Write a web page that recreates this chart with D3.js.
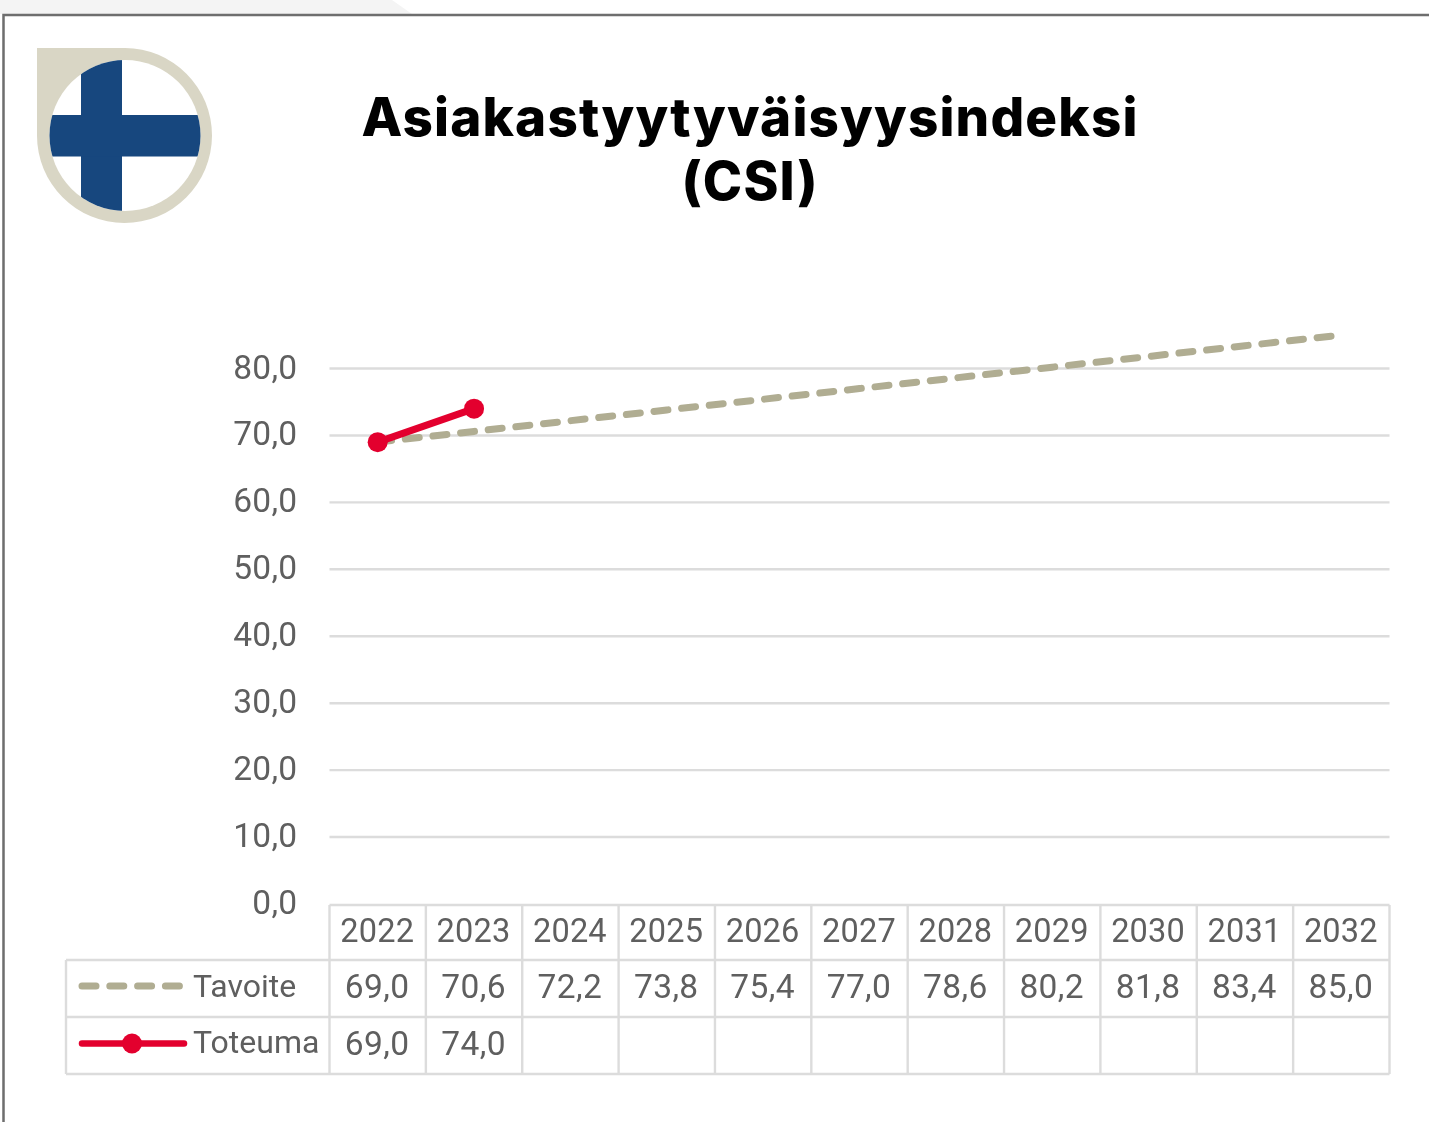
<!DOCTYPE html>
<html><head><meta charset="utf-8">
<script src="https://cdn.jsdelivr.net/npm/d3@7"></script>
<style>html,body{margin:0;padding:0;background:#fff}svg{display:block}text{font-family:Roboto,sans-serif}</style>
</head><body><svg id="c" width="1429" height="1122"></svg>
<script>
const years=["2022","2023","2024","2025","2026","2027","2028","2029","2030","2031","2032"];
const tavoite=[69.0,70.6,72.2,73.8,75.4,77.0,78.6,80.2,81.8,83.4,85.0];
const toteuma=[69.0,74.0];
const yTicks=[0,10,20,30,40,50,60,70,80];
const titleLines=["Asiakastyytyväisyysindeksi","(CSI)"];
const seriesNames=["Tavoite","Toteuma"];
const svg=d3.select("#c");
const fmt=v=>v.toFixed(1).replace(".",",");
const x=d3.scaleBand().domain(years).range([329.5,1389.5]);
const y=d3.scaleLinear().domain([0,80]).range([904,368.5]);
const rowsY=[905,960,1017,1074], tableLeft=66, tableRight=1389.5;
const grey="#5e5e5e", gridC="#dcdcdc", tanC="#b0ad92", redC="#e3002f";
const defs=svg.append("defs");
defs.append("filter").attr("id","soft").append("feGaussianBlur").attr("stdDeviation",0.55);
// page background
svg.append("path").attr("d","M0 0H392L412 14H0Z").attr("fill","#f4f4f4");
svg.append("path").attr("d","M3.5 1122V15H1429").attr("fill","none").attr("stroke","#6e6e6e").attr("stroke-width",2.5);
// logo
const logo=svg.append("g");
logo.append("path").attr("d","M37 48H125A87.5 87.5 0 1 1 37 135.5Z").attr("fill","#d9d6c5");
logo.append("circle").attr("cx",125).attr("cy",135.5).attr("r",75.5).attr("fill","#fff");
svg.append("clipPath").attr("id","lc").append("circle").attr("cx",125).attr("cy",135.5).attr("r",75.5);
const cr=logo.append("g").attr("clip-path","url(#lc)").attr("fill","#17477e");
cr.append("rect").attr("x",81).attr("y",55).attr("width",41).attr("height",165);
cr.append("rect").attr("x",45).attr("y",115).attr("width",160).attr("height",41.5);
// title
svg.selectAll(".t").data(titleLines).join("text").attr("class","t")
 .attr("x",750).attr("y",(d,i)=>136+i*64).attr("text-anchor","middle")
 .style("font-family","Inter,sans-serif").style("font-weight",800).style("font-size","53px").style("letter-spacing","1.15px")
 .attr("fill","#000").text(d=>d);
const chart=svg.append("g").attr("filter","url(#soft)");
// axis + grid
const ax=chart.append("g").attr("transform","translate(329.5,0)")
 .call(d3.axisLeft(y).tickValues(yTicks).tickFormat(fmt).tickSize(0).tickPadding(32));
ax.select(".domain").remove();
ax.selectAll("text").attr("fill",grey).style("font-size","33.5px").style("letter-spacing","0.3px").style("font-family","Roboto,sans-serif").attr("dy","9.5");
chart.append("g").selectAll("line").data(yTicks.filter(d=>d>0)).join("line")
 .attr("x1",329.5).attr("x2",1389.5).attr("y1",y).attr("y2",y).attr("stroke",gridC).attr("stroke-width",2.4);
// table
const tb=chart.append("g").attr("stroke",gridC).attr("stroke-width",2.4).attr("fill","none");
tb.append("line").attr("x1",329.5).attr("x2",tableRight).attr("y1",rowsY[0]).attr("y2",rowsY[0]);
rowsY.slice(1).forEach(v=>tb.append("line").attr("x1",tableLeft).attr("x2",tableRight).attr("y1",v).attr("y2",v));
tb.append("line").attr("x1",tableLeft).attr("x2",tableLeft).attr("y1",rowsY[1]).attr("y2",rowsY[3]);
[...years.map(d=>x(d)),tableRight].forEach(v=>tb.append("line").attr("x1",v).attr("x2",v).attr("y1",rowsY[0]).attr("y2",rowsY[3]));
const cell=(sel,data,yp,f,fs,ls)=>sel.append("g").selectAll("text").data(data).join("text")
 .attr("x",(d,i)=>x(years[i])+x.bandwidth()/2-0.5).attr("y",yp).attr("text-anchor","middle")
 .attr("fill",grey).style("font-size",fs).style("letter-spacing",ls).text(f);
cell(chart,years,942,d=>d,"32.5px","0.2px");
cell(chart,tavoite,998,fmt,"33.5px","0.4px");
cell(chart,toteuma,1055,fmt,"33.5px","0.4px");
// legend
chart.selectAll(".ln").data(seriesNames).join("text").attr("class","ln")
 .attr("x",193).attr("y",(d,i)=>997+i*56).attr("fill",grey).style("font-size","32px").text(d=>d);
chart.append("line").attr("x1",82).attr("x2",181).attr("y1",986).attr("y2",986).attr("stroke",tanC)
 .attr("stroke-width",7).attr("stroke-linecap","round").attr("stroke-dasharray","14 13.8");
chart.append("line").attr("x1",82).attr("x2",184).attr("y1",1043.5).attr("y2",1043.5).attr("stroke",redC)
 .attr("stroke-width",6.5).attr("stroke-linecap","round");
chart.append("circle").attr("cx",132).attr("cy",1043.5).attr("r",10).attr("fill",redC);
// series
const cx=i=>x(years[i])+x.bandwidth()/2;
const line=d3.line().x((d,i)=>cx(i)).y(d=>y(d));
chart.append("path").attr("d",line(tavoite)).attr("fill","none").attr("stroke",tanC).attr("stroke-width",7)
 .attr("stroke-linecap","round").attr("stroke-dasharray","14 13.8");
chart.append("path").attr("d",line(toteuma)).attr("fill","none").attr("stroke",redC).attr("stroke-width",7).attr("stroke-linecap","round");
chart.append("g").selectAll("circle").data(toteuma).join("circle").attr("cx",(d,i)=>cx(i)).attr("cy",y).attr("r",10).attr("fill",redC);
</script></body></html>
